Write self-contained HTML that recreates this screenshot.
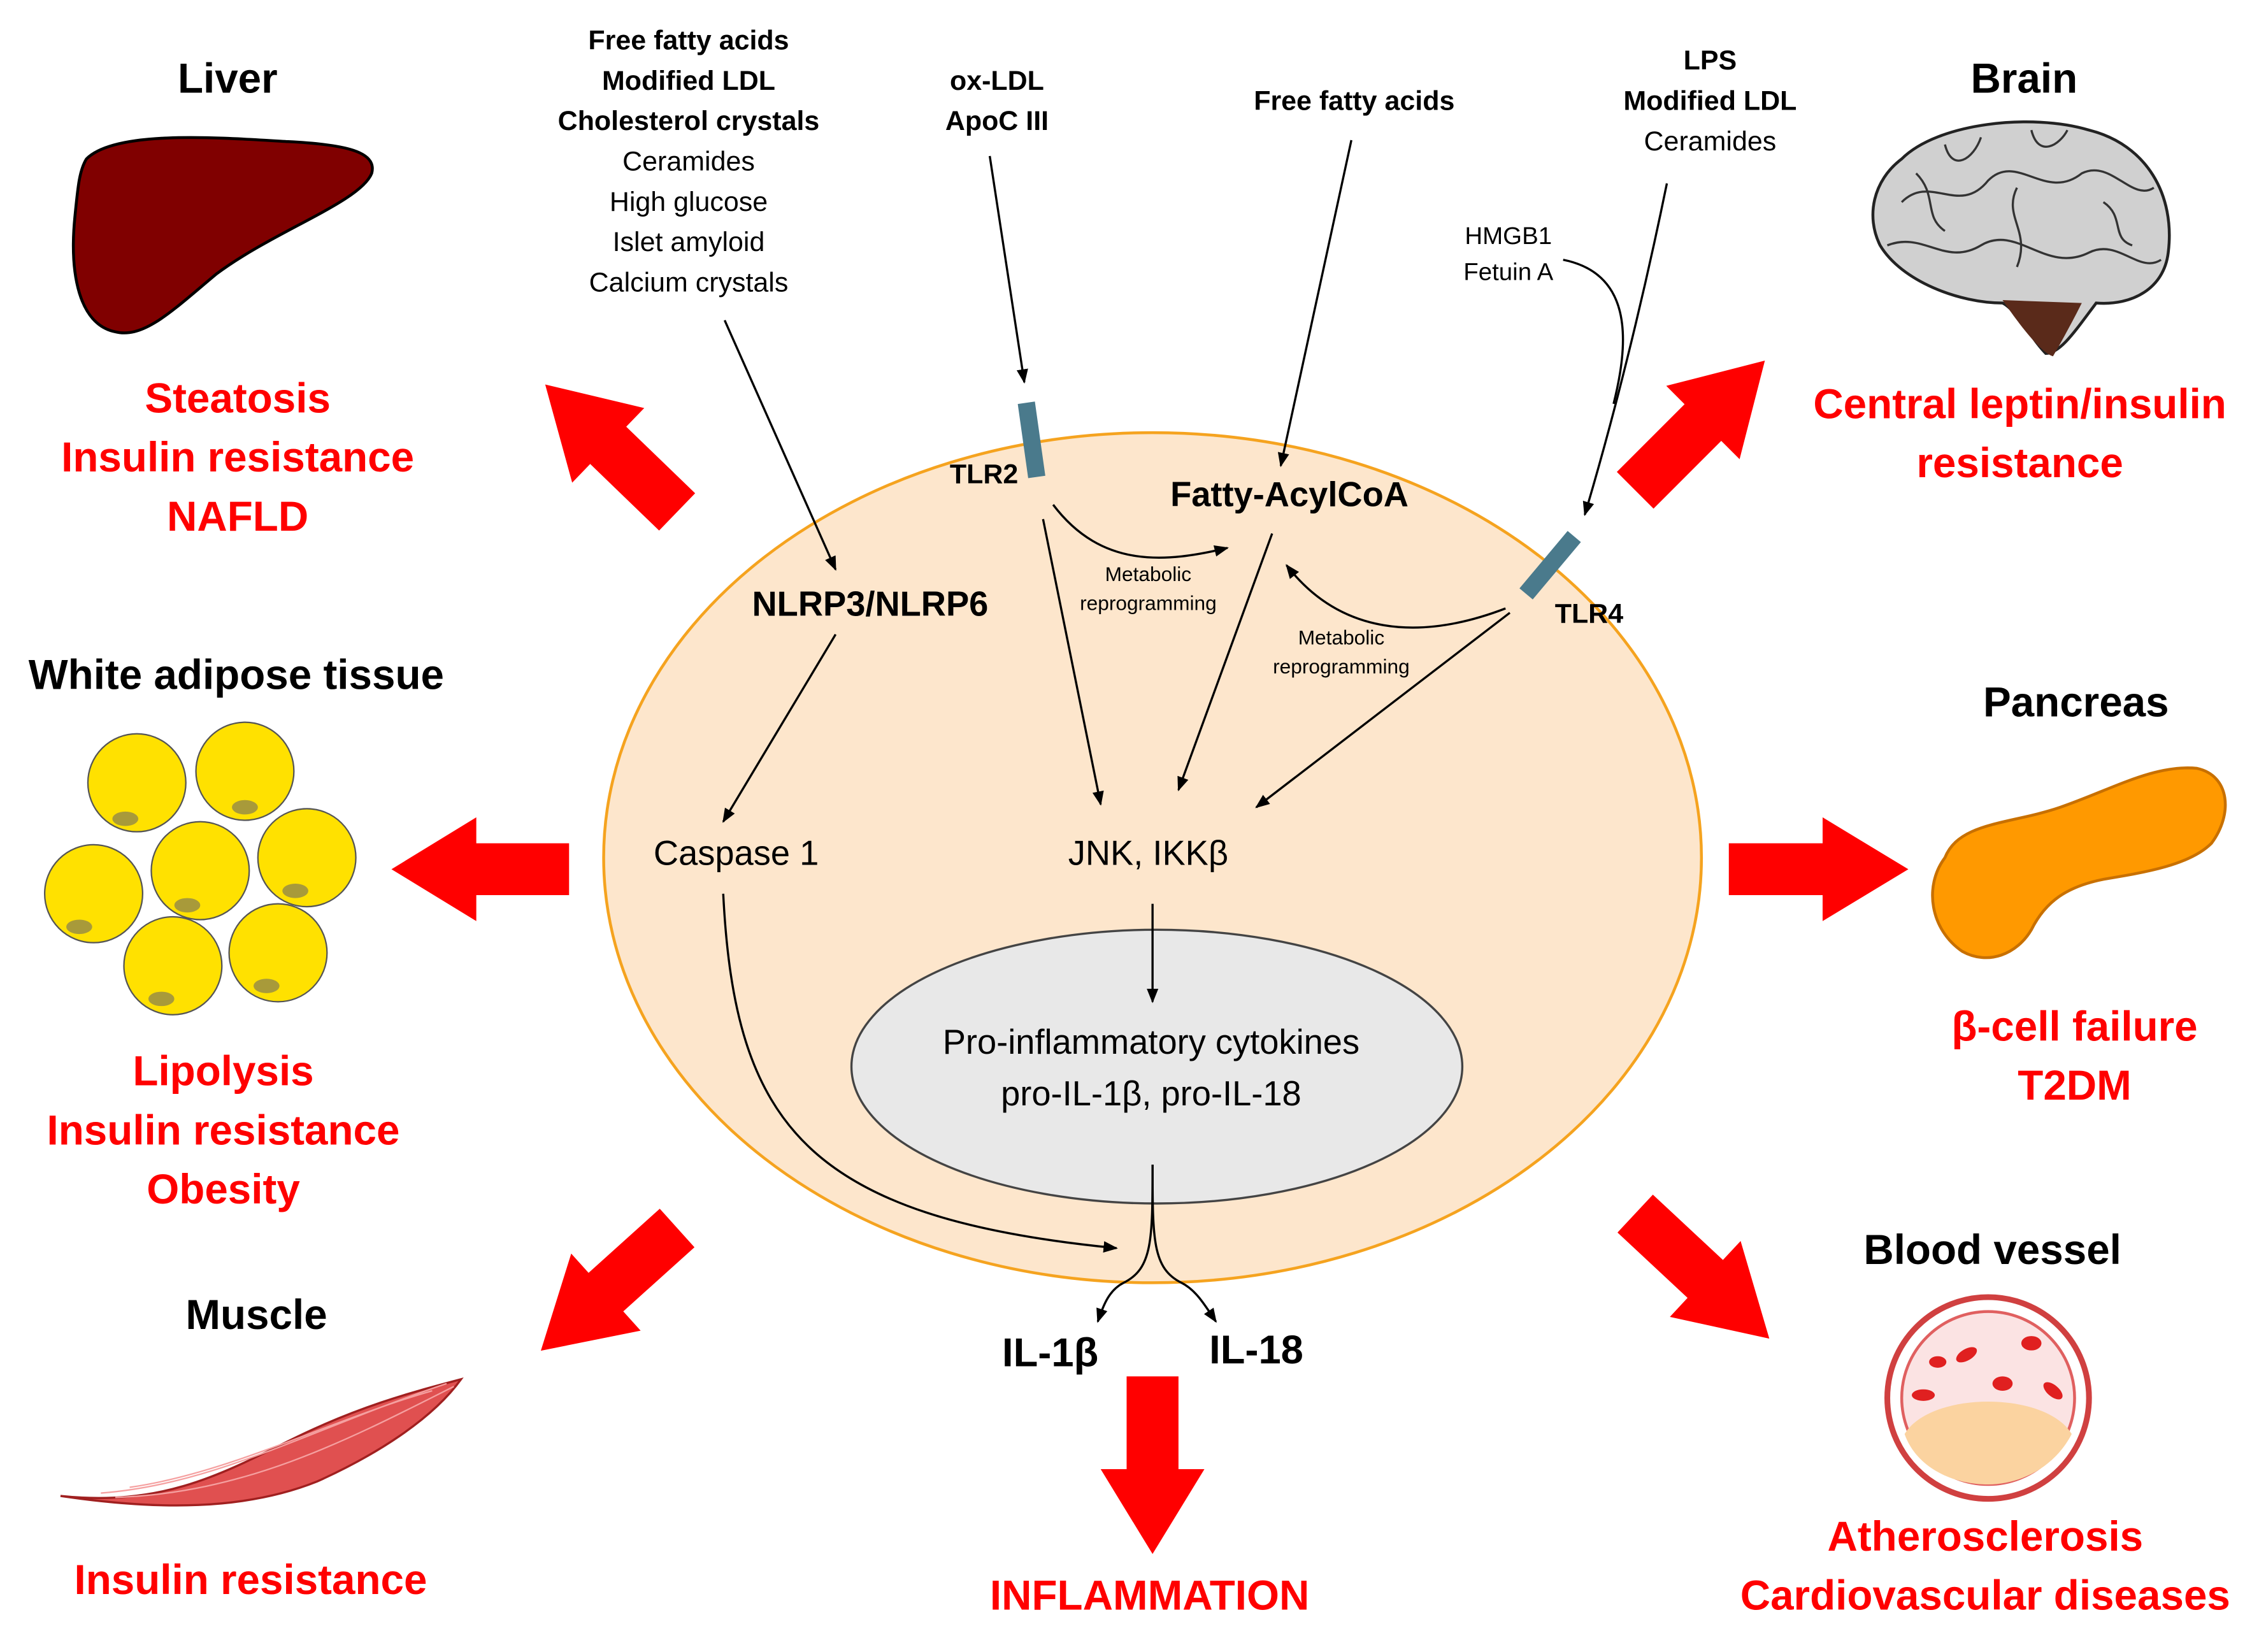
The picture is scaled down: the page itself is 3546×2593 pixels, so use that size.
<!DOCTYPE html>
<html><head><meta charset="utf-8"><style>
html,body{margin:0;padding:0;background:#fff}
svg{display:block}
text{font-family:"Liberation Sans",sans-serif}
.b{font-weight:bold}
.r{fill:#ff0000;font-weight:bold;font-size:29px}
.h{font-weight:bold;font-size:29px;fill:#000}
</style></head><body>
<svg width="3546" height="2593" viewBox="0 0 1568 1146" xmlns="http://www.w3.org/2000/svg">
<defs>
<marker id="a" markerWidth="10" markerHeight="10" refX="9" refY="5" orient="auto" markerUnits="userSpaceOnUse"><path d="M0,1 L10,5 L0,9 z" fill="#000"/></marker>
<polygon id="ra" points="0,-18 70,-18 70,-36 134,0 70,36 70,18 0,18" fill="#ff0000"/>
</defs>
<rect width="1568" height="1146" fill="#fff"/>
<ellipse cx="800" cy="595" rx="381" ry="295" fill="#fde6cc" stroke="#f5a31f" stroke-width="2"/>
<ellipse cx="803" cy="740" rx="212" ry="95" fill="#e8e8e8" stroke="#444" stroke-width="1.5"/>
<rect x="-6" y="-26" width="12" height="52" fill="#4a7a8c" transform="translate(716,305) rotate(-8)"/>
<rect x="-6" y="-26" width="12" height="52" fill="#4a7a8c" transform="translate(1076,392) rotate(40)"/>
<use href="#ra" transform="translate(470,355) rotate(-136) scale(0.95,1)"/>
<use href="#ra" transform="translate(1135,340) rotate(-45) scale(0.95,1)"/>
<use href="#ra" transform="translate(395,603) rotate(180) scale(0.92,1)"/>
<use href="#ra" transform="translate(1200,603) scale(0.93,1)"/>
<use href="#ra" transform="translate(470,852) rotate(138) scale(0.95,1)"/>
<use href="#ra" transform="translate(1135,842) rotate(43) scale(0.95,1)"/>
<use href="#ra" transform="translate(800,955) rotate(90) scale(0.92,1)"/>
<g stroke="#000" stroke-width="1.5" fill="none" marker-end="url(#a)">
<line x1="503" y1="222" x2="580" y2="395"/>
<line x1="687" y1="108" x2="711" y2="265"/>
<line x1="938" y1="97" x2="889" y2="323"/>
<path d="M1157,127 C1140,210 1120,290 1100,357"/>
<path d="M1085,180 C1135,190 1130,240 1120,280"  marker-end="none"/>
<line x1="580" y1="440" x2="502" y2="570"/>
<line x1="724" y1="360" x2="764" y2="558"/>
<line x1="883" y1="370" x2="818" y2="548"/>
<line x1="1048" y1="425" x2="872" y2="560"/>
<path d="M731,350 C765,395 810,390 852,380"/>
<path d="M1045,422 C985,445 930,440 893,392"/>
<line x1="800" y1="627" x2="800" y2="695"/>
<path d="M502,620 C510,780 560,845 775,866"/>
<path d="M800,808 C800,860 800,880 780,890 C770,895 766,905 762,917"/>
<path d="M800,808 C800,860 800,880 820,890 C830,895 836,905 844,917"/>
</g>
<g font-size="19" text-anchor="middle" fill="#000">
<text x="478" y="34" class="b">Free fatty acids</text>
<text x="478" y="62" class="b">Modified LDL</text>
<text x="478" y="90" class="b">Cholesterol crystals</text>
<text x="478" y="118">Ceramides</text>
<text x="478" y="146">High glucose</text>
<text x="478" y="174">Islet amyloid</text>
<text x="478" y="202">Calcium crystals</text>
<text x="692" y="62" class="b">ox-LDL</text>
<text x="692" y="90" class="b">ApoC III</text>
<text x="940" y="76" class="b">Free fatty acids</text>
<text x="1187" y="48" class="b">LPS</text>
<text x="1187" y="76" class="b">Modified LDL</text>
<text x="1187" y="104">Ceramides</text>
<text x="1047" y="169" font-size="17">HMGB1</text>
<text x="1047" y="194" font-size="17">Fetuin A</text>
</g>
<g fill="#000">
<text x="683" y="335" font-size="19" class="b" text-anchor="middle">TLR2</text>
<text x="895" y="351" font-size="24" class="b" text-anchor="middle">Fatty-AcylCoA</text>
<text x="1103" y="432" font-size="19" class="b" text-anchor="middle">TLR4</text>
<text x="604" y="427" font-size="24" class="b" text-anchor="middle">NLRP3/NLRP6</text>
<text x="797" y="403" font-size="14" text-anchor="middle">Metabolic</text>
<text x="797" y="423" font-size="14" text-anchor="middle">reprogramming</text>
<text x="931" y="447" font-size="14" text-anchor="middle">Metabolic</text>
<text x="931" y="467" font-size="14" text-anchor="middle">reprogramming</text>
<text x="511" y="600" font-size="24" text-anchor="middle">Caspase 1</text>
<text x="797" y="600" font-size="24" text-anchor="middle">JNK, IKKβ</text>
<text x="799" y="731" font-size="24" text-anchor="middle">Pro-inflammatory cytokines</text>
<text x="799" y="767" font-size="24" text-anchor="middle">pro-IL-1β, pro-IL-18</text>
<text x="729" y="948" font-size="28" class="b" text-anchor="middle">IL-1β</text>
<text x="872" y="946" font-size="28" class="b" text-anchor="middle">IL-18</text>
</g>
<g text-anchor="middle">
<text x="158" y="64" class="h">Liver</text>
<text x="1405" y="64" class="h">Brain</text>
<text x="164" y="478" class="h">White adipose tissue</text>
<text x="1441" y="497" class="h">Pancreas</text>
<text x="178" y="922" class="h">Muscle</text>
<text x="1383" y="877" class="h">Blood vessel</text>
<text x="165" y="286" class="r">Steatosis</text>
<text x="165" y="327" class="r">Insulin resistance</text>
<text x="165" y="368" class="r">NAFLD</text>
<text x="1402" y="290" class="r">Central leptin/insulin</text>
<text x="1402" y="331" class="r">resistance</text>
<text x="155" y="753" class="r">Lipolysis</text>
<text x="155" y="794" class="r">Insulin resistance</text>
<text x="155" y="835" class="r">Obesity</text>
<text x="1440" y="722" class="r">β-cell failure</text>
<text x="1440" y="763" class="r">T2DM</text>
<text x="174" y="1106" class="r">Insulin resistance</text>
<text x="798" y="1117" class="r">INFLAMMATION</text>
<text x="1378" y="1076" class="r">Atherosclerosis</text>
<text x="1378" y="1117" class="r">Cardiovascular diseases</text>
</g>
<path d="M60,110 C80,90 150,95 200,98 C240,100 262,105 258,120 C250,140 190,160 150,190 C120,215 100,235 80,230 C55,225 48,190 52,150 C54,130 55,118 60,110 Z" fill="#800000" stroke="#000" stroke-width="2"/>
<path d="M1320,110 C1345,85 1410,78 1450,90 C1490,100 1510,135 1505,175 C1502,200 1480,212 1455,210 C1440,230 1430,245 1420,245 C1410,235 1400,215 1390,210 C1360,210 1320,195 1305,170 C1295,150 1300,125 1320,110 Z" fill="#d0d0d0" stroke="#222" stroke-width="2"/>
<path d="M1390,208 C1405,230 1418,245 1425,247 C1432,235 1440,220 1445,210 Z" fill="#5a2a1a"/>
<g stroke="#333" stroke-width="1.5" fill="none">
<path d="M1320,140 C1340,120 1360,150 1380,125 C1400,105 1420,140 1445,120 C1465,110 1480,140 1495,130"/>
<path d="M1310,170 C1335,160 1350,185 1375,170 C1400,155 1420,190 1450,175 C1470,165 1485,190 1500,180"/>
<path d="M1350,100 C1355,120 1370,110 1375,95 M1410,90 C1415,110 1430,100 1435,90"/>
<path d="M1330,120 C1345,135 1335,150 1350,160 M1400,130 C1390,150 1410,160 1400,185 M1460,140 C1475,150 1465,165 1480,170"/>
</g>
<g fill="#ffe100" stroke="#555" stroke-width="1">
<circle cx="95" cy="543" r="34"/><circle cx="170" cy="535" r="34"/>
<circle cx="65" cy="620" r="34"/><circle cx="139" cy="604" r="34"/><circle cx="213" cy="595" r="34"/>
<circle cx="120" cy="670" r="34"/><circle cx="193" cy="661" r="34"/>
</g>
<g fill="#a89a3a">
<ellipse cx="87" cy="568" rx="9" ry="5"/><ellipse cx="170" cy="560" rx="9" ry="5"/><ellipse cx="55" cy="643" rx="9" ry="5"/><ellipse cx="130" cy="628" rx="9" ry="5"/><ellipse cx="205" cy="618" rx="9" ry="5"/><ellipse cx="112" cy="693" rx="9" ry="5"/><ellipse cx="185" cy="684" rx="9" ry="5"/>
</g>
<path d="M42,1038 C110,1045 150,1025 200,1000 C250,975 290,965 320,957 C300,985 260,1010 220,1028 C170,1048 110,1048 42,1038 Z" fill="#e05050" stroke="#a02020" stroke-width="1.5"/>
<g stroke="#f5a0a0" stroke-width="1" fill="none">
<path d="M70,1036 C150,1030 220,990 310,960"/><path d="M90,1032 C160,1022 230,985 300,965"/><path d="M80,1039 C170,1036 240,1000 315,962"/>
</g>
<path d="M1350,595 C1360,570 1395,572 1430,560 C1465,548 1495,530 1525,533 C1548,538 1550,565 1535,585 C1520,600 1490,605 1460,610 C1435,615 1420,625 1410,645 C1400,662 1380,670 1362,660 C1340,645 1335,615 1350,595 Z" fill="#ff9900" stroke="#c87000" stroke-width="2"/>
<circle cx="1380" cy="970" r="70" fill="#fff" stroke="#d04040" stroke-width="4"/>
<circle cx="1380" cy="970" r="60" fill="#fbe3e3" stroke="#e06060" stroke-width="2"/>
<path d="M1322,995 C1340,965 1420,965 1438,995 C1425,1020 1400,1030 1380,1030 C1355,1030 1330,1018 1322,995 Z" fill="#fbd3a0"/>
<g fill="#e02020">
<ellipse cx="1345" cy="945" rx="6" ry="4"/><ellipse cx="1365" cy="940" rx="8" ry="4" transform="rotate(-30 1365 940)"/><ellipse cx="1410" cy="932" rx="7" ry="5"/><ellipse cx="1390" cy="960" rx="7" ry="5"/><ellipse cx="1425" cy="965" rx="8" ry="4" transform="rotate(40 1425 965)"/><ellipse cx="1335" cy="968" rx="8" ry="4"/>
</g>
</svg>
</body></html>
